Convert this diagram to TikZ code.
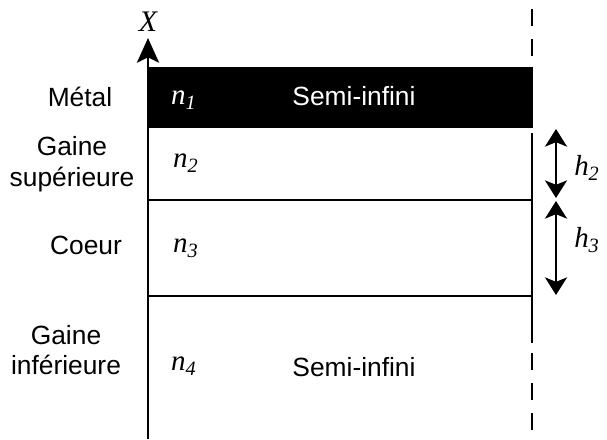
\documentclass[tikz,border=0pt]{standalone}
\usepackage{fontspec}
\setmainfont{Liberation Sans}
\newfontfamily\tmsfont{Liberation Serif}
\usetikzlibrary{positioning}
\usetikzlibrary{arrows.meta}

\newcommand{\idx}[2]{{\tmsfont\itshape #1\textsubscript{#2}}}

\tikzset{
  axisline/.style={line width=1.7pt, -{Stealth[length=14pt, width=12.5pt, inset=3pt]}},
  layerline/.style={line width=1.5pt},
  edgeline/.style={line width=1.2pt},
  cutline/.style={line width=1.2pt, dash pattern=on 0.34cm off 0.26cm},
  thickarrow/.style={line width=1.5pt, {Stealth[length=10pt, width=12.5pt, inset=2.5pt]}-{Stealth[length=10pt, width=12.5pt, inset=2.5pt]}},
  lbl/.style={align=center, font=\fontsize{15}{17.5}\selectfont},
  idxlbl/.style={font=\fontsize{16.5}{18}\selectfont}
}

\begin{document}
\begin{tikzpicture}[x=0.02cm, y=-0.02cm]
\useasboundingbox (0,0) rectangle (607,439);

% layers
\fill (148,67) rectangle (533,128);
\coordinate (ax0) at (148,439);
\coordinate (ax1) at (148,38);
\draw[axisline] (ax0) -- (ax1);
\node[font=\fontsize{17}{19}\selectfont\tmsfont\itshape] (xlab) at (148,22) {X};

\coordinate (l2a) at (148,200);
\coordinate (l2b) at (532,200);
\coordinate (l3a) at (148,296);
\coordinate (l3b) at (532,296);
\draw[layerline] (l2a) -- (l2b);
\draw[layerline] (l3a) -- (l3b);

% right edge
\coordinate (r0) at (532,0);
\coordinate (r1) at (532,56);
\coordinate (r2) at (532,133);
\coordinate (r3) at (532,343);
\coordinate (r4) at (532,353);
\coordinate (r5) at (532,439);
\draw[cutline] (r1) -- (r0);
\draw[edgeline] (r2) -- (r3);
\draw[cutline] (r4) -- (r5);

% thicknesses
\coordinate (h2a) at (556,129);
\coordinate (h2b) at (556,198);
\coordinate (h3a) at (556,201);
\coordinate (h3b) at (556,295);
\draw[thickarrow] (h2a) -- (h2b);
\draw[thickarrow] (h3a) -- (h3b);
\node[idxlbl] (h2) at (587,168) {\idx{h}{2}};
\node[idxlbl] (h3) at (587,240) {\idx{h}{3}};

% layer names
\node[lbl] (metal) at (80,97) {Métal};
\node[lbl] (gsup) at (72,164) {Gaine\\supérieure};
\node[lbl] (coeur) at (86,245) {Coeur};
\node[lbl] (ginf) at (66,350) {Gaine\\inférieure};

% indices
\node[idxlbl, text=white] (n1) at (184,100) {\idx{n}{1}};
\node[idxlbl] (n2) at (186,163) {\idx{n}{2}};
\node[idxlbl] (n3) at (186,248) {\idx{n}{3}};
\node[idxlbl] (n4) at (184,366) {\idx{n}{4}};
\node[lbl, text=white] (semi1) at (354,96) {Semi-infini};
\node[lbl] (semi4) at (354,367) {Semi-infini};
\end{tikzpicture}
\end{document}
